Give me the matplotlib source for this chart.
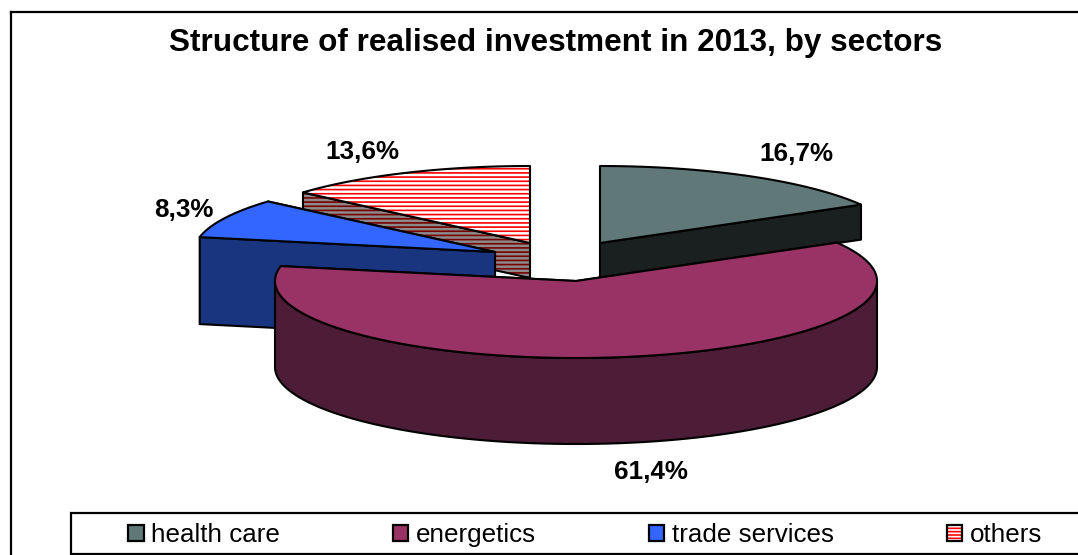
import numpy as np
import matplotlib
matplotlib.use("Agg")
import matplotlib.pyplot as plt
from matplotlib.patches import Polygon, Patch, Rectangle
from matplotlib.legend_handler import HandlerTuple

# ---- data ----
sectors = ["health care", "energetics", "trade services", "others"]
shares = [16.7, 61.4, 8.3, 13.6]
title = "Structure of realised investment in 2013, by sectors"

# ---- styles / layout (pixel space of the 1078x555 canvas) ----
top_colors = ["#607878", "#993366", "#3366ff", "#ffffff"]
side_colors = ["#1a2020", "#4d1c36", "#1a3580", "#8a8a8a"]
hatches = [None, None, None, "----"]
hatch_colors = [None, None, None, "#ff0000"]
side_hatch_colors = [None, None, None, "#7a0000"]
centres_x = [600, 576, 495, 530]
centres_y = [243, 281, 252, 243]
depths = [35, 86, 87, 35]
label_x = [796, 651, 184, 362]
label_y = [154, 472, 210, 152]
draw_order = [0, 3, 2, 1]
RX, RY = 301, 77

plt.rcParams["font.family"] = ["Liberation Sans", "DejaVu Sans"]
plt.rcParams["hatch.linewidth"] = 1.2

fig = plt.figure(figsize=(10.78, 5.55), dpi=100)
ax = fig.add_axes([0, 0, 1, 1])
ax.set_xlim(0, 1078)
ax.set_ylim(555, 0)
ax.axis("off")

LW = 1.5


def rim(cx, cy, a0, a1, dy=0.0):
    t = np.radians(np.linspace(a0, a1, max(2, int(abs(a1 - a0) * 2) + 1)))
    return np.column_stack([cx + RX * np.sin(t), cy - RY * np.cos(t) + dy])


def paint(pts, face, hatch=None, hatch_color=None, z=1):
    if hatch:
        ax.add_patch(Polygon(pts, closed=True, facecolor=face, edgecolor=hatch_color,
                             hatch=hatch, lw=0, zorder=z))
        ax.add_patch(Polygon(pts, closed=True, facecolor="none", edgecolor="black",
                             lw=LW, zorder=z, joinstyle="round"))
    else:
        ax.add_patch(Polygon(pts, closed=True, facecolor=face, edgecolor="black",
                             lw=LW, zorder=z, joinstyle="round"))


# ---- outer frame ----
ax.plot([11, 11], [555, 12], color="black", lw=1.6, zorder=0.5)
ax.plot([11, 1078], [12, 12], color="black", lw=1.6, zorder=0.5)

# ---- 3D pie built from the shares ----
edges = np.concatenate([[0], np.cumsum(shares)]) / sum(shares) * 360.0
z = 1.0
for i in draw_order:
    a0, a1 = edges[i], edges[i + 1]
    cx, cy, d = centres_x[i], centres_y[i], depths[i]
    shatch = hatches[i]
    scol = side_hatch_colors[i]
    # radial faces
    for a in (a1, a0):
        if abs(np.sin(np.radians(a))) < 1e-6:
            continue
        r = rim(cx, cy, a, a)[0]
        face = [(cx, cy), tuple(r), (r[0], r[1] + d), (cx, cy + d)]
        paint(face, side_colors[i], shatch, scol, z)
        z += 0.01
    # outer wall
    lo, hi = max(a0, 90), min(a1, 270)
    if hi > lo:
        up = rim(cx, cy, lo, hi)
        down = rim(cx, cy, hi, lo, d)
        paint(np.vstack([up, down]), side_colors[i], shatch, scol, z)
        z += 0.01
    # top surface
    top = np.vstack([[(cx, cy)], rim(cx, cy, a0, a1)])
    paint(top, top_colors[i], hatches[i], hatch_colors[i], z)
    z += 0.01

# ---- labels ----
for i, s in enumerate(shares):
    ax.text(label_x[i], label_y[i], f"{s:.1f}%".replace(".", ","), fontsize=18.7,
            fontweight="bold", ha="center", va="center", color="black", zorder=10)

ax.text(556, 43, title, fontsize=22.7, fontweight="bold", ha="center", va="center",
        color="black", zorder=10)

# ---- legend ----
ax.add_patch(Rectangle((71, 513), 1100, 41, facecolor="white", edgecolor="black",
                       lw=1.6, zorder=5))
handles = []
for i in range(len(sectors)):
    if hatches[i]:
        handles.append((Patch(facecolor=top_colors[i], edgecolor=hatch_colors[i],
                              hatch="-----", lw=0),
                        Patch(facecolor="none", edgecolor="black", lw=1.6)))
    else:
        handles.append(Patch(facecolor=top_colors[i], edgecolor="black", lw=1.6))
leg = ax.legend(handles, sectors, loc="center left", bbox_to_anchor=(128, 535),
                bbox_transform=ax.transData, ncols=4, frameon=False, fontsize=18.7,
                borderpad=0, borderaxespad=0, handlelength=0.6, handleheight=0.6,
                handletextpad=0.3, columnspacing=4.33,
                handler_map={tuple: HandlerTuple(ndivide=1, pad=0)})
leg.set_zorder(6)

fig.savefig("out.png", dpi=100)
